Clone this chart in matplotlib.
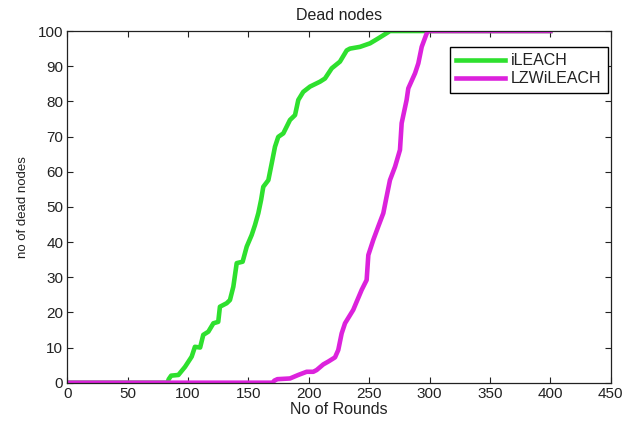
import matplotlib.pyplot as plt

plt.rcParams['font.family'] = ['Liberation Sans', 'DejaVu Sans']

# rounds vs number of dead nodes
ileach_x = [0, 83, 84, 86, 92, 97.5, 103, 105.7, 110, 112.6, 116.8, 121, 125, 126.4,
            132, 134.7, 137.5, 140.3, 145.2, 148.6, 152.7, 155.4, 158.2, 160.5,
            162.3, 166.5, 169.3, 172, 174.7, 178.9, 184.4, 188.6, 191.3, 195.4,
            201, 209.3, 213.4, 219, 225.8, 231.4, 234.1, 242.4, 250.7, 257.5,
            264.5, 267.2, 400]
ileach_y = [0, 0, 1, 2, 2.2, 4.5, 7.4, 10.2, 10, 13.6, 14.5, 16.9, 17.3, 21.6,
            22.6, 23.5, 27.3, 34, 34.4, 38.7, 42, 44.8, 48.2, 52,
            55.7, 57.6, 62.4, 67.1, 69.9, 70.9, 74.7, 76.1, 80.4, 82.7,
            84.2, 85.6, 86.5, 89.4, 91.3, 94.5, 95, 95.5, 96.5, 97.9,
            99.4, 100, 100]

lzw_x = [0, 170, 171.5, 174, 184.4, 191.3, 198.2, 203.7, 206.5, 212, 216.1, 221.7,
         224.4, 227.2, 230, 236.8, 239.6, 243.8, 247.9, 249.3, 253.4, 257.5,
         261.7, 263.9, 267.2, 271.4, 275.5, 276.9, 281, 282.4, 288, 290.7,
         293.5, 297.6, 299, 400]
lzw_y = [0, 0, 0.6, 1, 1.2, 2.2, 3.1, 3.1, 3.6, 5.2, 6, 7.2,
         9.3, 14, 16.9, 20.7, 23, 26.4, 29.2, 36.3, 40.6, 44.4,
         48.2, 52, 57.6, 61.4, 66.2, 73.8, 80.4, 83.7, 88, 90.8,
         95.5, 99.3, 100, 100]

fig = plt.figure(figsize=(6.22, 4.21), dpi=100)
ax = fig.add_axes([0.1082, 0.091, 0.8736, 0.8353])

ax.plot(ileach_x, ileach_y, color='#2ee02e', linewidth=3.3, label='iLEACH')
ax.plot(lzw_x, lzw_y, color='#dc22dc', linewidth=3.3, label='LZWiLEACH')

ax.set_xlim(0, 450)
ax.set_ylim(0, 100)
ax.set_xticks(range(0, 451, 50))
ax.set_yticks(range(0, 101, 10))
ax.tick_params(direction='in', top=True, right=True, length=4, labelsize=11,
               pad=3, colors='#222222')
for s in ax.spines.values():
    s.set_linewidth(0.9)
    s.set_color('#222222')

ax.set_title('Dead nodes', fontsize=11.5, pad=8, color='#222222')
ax.set_xlabel('No of Rounds', fontsize=11.5, labelpad=1, color='#222222')
ax.set_ylabel('no of dead nodes', fontsize=9.5, labelpad=6, color='#222222')

leg = ax.legend(loc='upper right', bbox_to_anchor=(0.995, 0.955),
                borderaxespad=0, fontsize=11.5, handlelength=3.1,
                fancybox=False, framealpha=1, edgecolor='black',
                handletextpad=0.35, labelspacing=0.2, borderpad=0.4)
leg.get_frame().set_linewidth(1)
for t in leg.get_texts():
    t.set_color('#222222')

fig.savefig('out.png', dpi=100)
